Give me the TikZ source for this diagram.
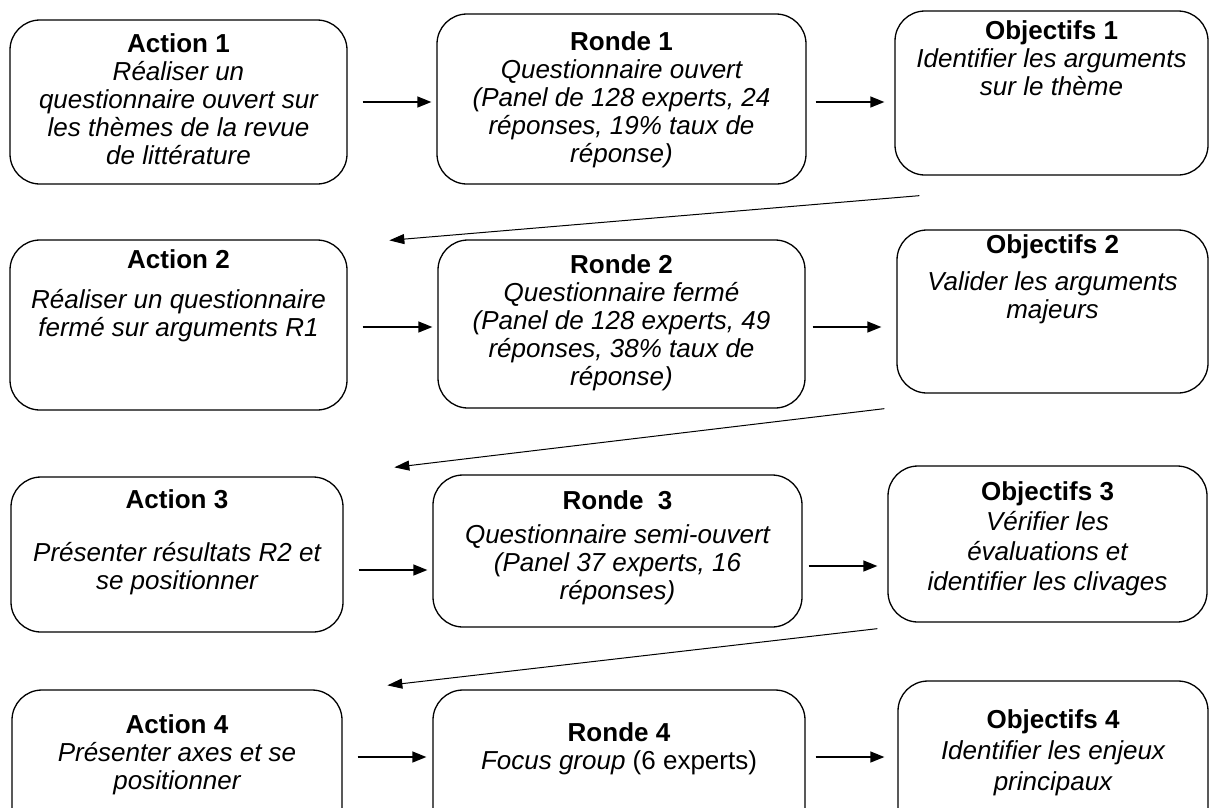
\documentclass[tikz,border=0pt]{standalone}
\usepackage{fontspec}
\setmainfont{Liberation Sans}
\usepackage{tikz}
\usetikzlibrary{calc}
\usetikzlibrary{positioning}
\usetikzlibrary{arrows.meta}
\newcommand{\titre}[1]{\textbf{\upshape #1}}
\tikzset{
bloc/.style 2 args={draw, rounded corners=30pt, line width=1.3pt,
	inner sep=0pt, minimum width=#1, minimum height=#2},
texte/.style={align=center, inner sep=0pt, anchor=north,
	font=\fontsize{26}{28}\selectfont\itshape},
fleche/.style={-{Triangle[length=14pt,width=11pt]}, line width=1.3pt},
retour/.style={-{Triangle[length=15pt,width=10pt]}, line width=1pt},
}

\begin{document}
\begin{tikzpicture}[x=1pt, y=-1pt]
	\useasboundingbox (0,0) rectangle (1210,807);
	%
	\node[bloc={337pt}{164pt}] (a1) at (178.5,102) {};
	\node[bloc={369pt}{170pt}] (r1) at (621.5,99) {};
	\node[bloc={313pt}{164pt}] (o1) at (1051.5,93) {};
	%
	\node[bloc={337pt}{170pt}] (a2) at (178.5,325) {};
	\node[bloc={367pt}{168pt}] (r2) at (621.5,324) {};
	\node[bloc={311pt}{163pt}] (o2) at (1052.5,311.5) {};
	%
	\node[bloc={332pt}{155pt}] (a3) at (177,554.5) {};
	\node[bloc={369pt}{152pt}] (r3) at (617.5,551) {};
	\node[bloc={319pt}{156pt}] (o3) at (1047.5,544) {};
	%
	\node[bloc={330pt}{150pt}] (a4) at (177,765) {};
	\node[bloc={372pt}{150pt}] (r4) at (619,765) {};
	\node[bloc={310pt}{159pt}] (o4) at (1053,760.5) {};
	
	%
	\node[texte] (ta1) at ($(a1.north)+(0,14)$) {\titre{Action 1}\\ R\'ealiser un\\ questionnaire ouvert sur\\ les th\`emes de la revue\\ de litt\'erature};
	\node[texte] (tr1) at ($(r1.north)+(0,18)$) {\titre{Ronde 1}\\ Questionnaire ouvert\\ (Panel de 128 experts, 24\\ r\'eponses, 19\% taux de\\ r\'eponse)};
	\node[texte] (to1) at ($(o1.north)+(0,10)$) {\titre{Objectifs 1}\\ Identifier les arguments\\ sur le th\`eme};
	%
	\node[texte] (ta2) at ($(a2.north)+(0,10)$) {\titre{Action 2}\\[12pt] R\'ealiser un questionnaire\\ ferm\'e sur arguments R1};
	\node[texte] (tr2) at ($(r2.north)+(0,15)$) {\titre{Ronde 2}\\ Questionnaire ferm\'e\\ (Panel de 128 experts, 49\\ r\'eponses, 38\% taux de\\ r\'eponse)};
	\node[texte] (to2) at ($(o2.north)+(0,5)$) {\titre{Objectifs 2}\\[9pt] Valider les arguments\\ majeurs};
	%
	\node[texte] (ta3) at ($(a3.north)+(0,13)$) {\titre{Action 3}\\[25pt] Pr\'esenter r\'esultats R2 et\\ se positionner};
	\node[texte] (tr3) at ($(r3.north)+(0,16)$) {\titre{Ronde~~3}\\[6pt] Questionnaire semi-ouvert\\ (Panel 37 experts, 16\\ r\'eponses)};
	\node[texte] (to3) at ($(o3.north)+(0,16)$) {\titre{Objectifs 3}\\[2pt] \textit{V\'erifier les}\\[2pt] \textit{\'evaluations et}\\[2pt] \textit{identifier les clivages}};
	%
	\node[texte] (ta4) at ($(a4.north)+(0,25)$) {\titre{Action 4}\\ Pr\'esenter axes et se\\ positionner};
	\node[texte] (tr4) at ($(r4.north)+(0,33)$) {\titre{Ronde 4}\\ Focus group \textup{(6 experts)}};
	\node[texte] (to4) at ($(o4.north)+(0,29)$) {\titre{Objectifs 4}\\[3pt] \textit{Identifier les enjeux}\\[3pt] \textit{principaux}};
	
	%
	\draw[fleche] ($(a1.east)+(15,0)$) to ($(a1.east -| r1.west)+(-5,0)$);
	\draw[fleche] ($(r1.east)+(9,3)$) to ($(r1.east -| o1.west)+(-10,3)$);
	\draw[fleche] ($(a2.east)+(15,2)$) to ($(a2.east -| r2.west)+(-5,2)$);
	\draw[fleche] ($(r2.east)+(7,3)$) to ($(r2.east -| o2.west)+(-15,3)$);
	\draw[fleche] ($(a3.east)+(15,15.5)$) to ($(a3.east -| r3.west)+(-5,15.5)$);
	\draw[fleche] ($(r3.east)+(6,15)$) to ($(r3.east -| o3.west)+(-10,15)$);
	\draw[fleche] ($(a4.east)+(15,-8)$) to ($(a4.east -| r4.west)+(-6,-8)$);
	\draw[fleche] ($(r4.east)+(10,-8)$) to ($(r4.east -| o4.west)+(-13,-8)$);
	
	%
	\draw[retour] ($(o1.south west)+(25,20)$) to ($(r2.north west)+(-48,1)$);
	\draw[retour] ($(o2.south west)+(-12,15)$) to ($(r3.north west)+(-38,-7)$);
	\draw[retour] ($(o3.south west)+(-10,6)$) to ($(r4.north west)+(-45,-4)$);
\end{tikzpicture}
\end{document}
